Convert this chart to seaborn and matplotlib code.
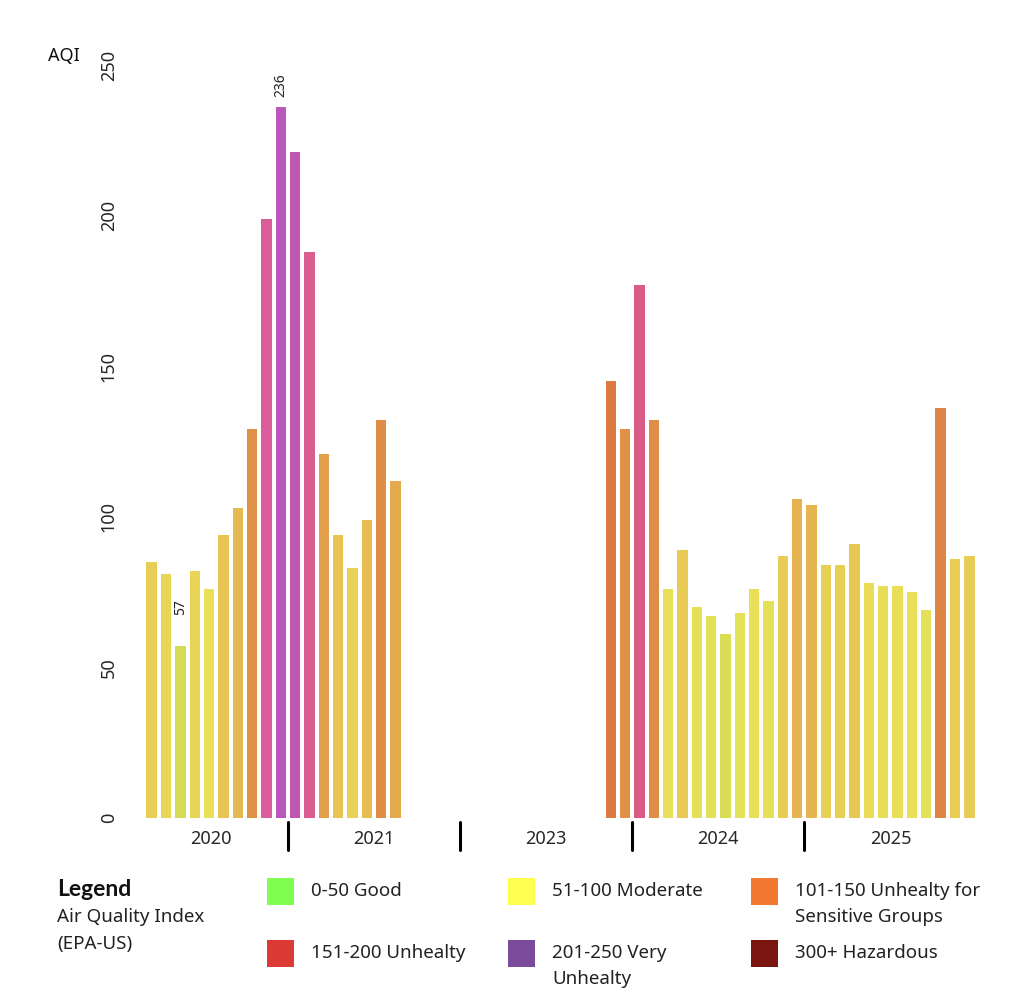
import numpy as np
import pandas as pd
import matplotlib
matplotlib.use("Agg")
import matplotlib.pyplot as plt
import seaborn as sns
from matplotlib.colors import LinearSegmentedColormap, to_hex
from matplotlib.patches import Rectangle
from matplotlib.lines import Line2D
import matplotlib.transforms as mtransforms

# ---------------- data ----------------
months = [
    "2020-03", "2020-04", "2020-05", "2020-06", "2020-07", "2020-08", "2020-09", "2020-10", "2020-11", "2020-12",
    "2021-01", "2021-02", "2021-03", "2021-04", "2021-05", "2021-06", "2021-07", "2021-08",
    "2023-11", "2023-12",
    "2024-01", "2024-02", "2024-03", "2024-04", "2024-05", "2024-06", "2024-07", "2024-08", "2024-09", "2024-10", "2024-11", "2024-12",
    "2025-01", "2025-02", "2025-03", "2025-04", "2025-05", "2025-06", "2025-07", "2025-08", "2025-09", "2025-10", "2025-11", "2025-12",
]
aqi = [
    85, 81, 57, 82, 76, 94, 103, 129, 199, 236,
    221, 188, 121, 94, 83, 99, 132, 112,
    145, 129,
    177, 132, 76, 89, 70, 67, 61, 68, 76, 72, 87, 106,
    104, 84, 84, 91, 78, 77, 77, 75, 69, 136, 86, 87,
]
years = ["2020", "2021", "2023", "2024", "2025"]
annotated_months = ["2020-05", "2020-12"]

y_ticks = [0, 50, 100, 150, 200, 250]

legend_labels = [
    "0-50 Good", "51-100 Moderate", "101-150 Unhealty for\nSensitive Groups",
    "151-200 Unhealty", "201-250 Very\nUnhealty", "300+ Hazardous",
]
legend_colors = ["#80FF50", "#FFFF50", "#F07830", "#DC3A35", "#7B4B9B", "#7A1510"]

# ---------------- style ----------------
sns.set_style("white")
plt.rcParams["font.family"] = ["Noto Sans", "DejaVu Sans"]

# gradient used for the bar fill (AQI -> colour)
grad_stops = [(50, "#C8DA50"), (57, "#D4DC55"), (67, "#E2E258"), (76, "#EADF58"),
              (84, "#E8CF55"), (94, "#E8C455"), (105, "#E6B450"), (121, "#E29E4C"),
              (132, "#DF8C47"), (145, "#DD7A42"), (162, "#DA6268"), (177, "#D95C88"),
              (200, "#DC5C9A"), (215, "#C259B0"), (236, "#B957BB"), (250, "#B456BE")]
lo, hi = grad_stops[0][0], grad_stops[-1][0]
cmap = LinearSegmentedColormap.from_list(
    "aqi", [((v - lo) / (hi - lo), c) for v, c in grad_stops])

# ---------------- frame ----------------
df = pd.DataFrame({"month": months, "aqi": aqi})
df["year"] = df["month"].str[:4]
df["m"] = df["month"].str[5:].astype(int)
df["pos"] = df["year"].map({y: i for i, y in enumerate(years)}) * 12 + df["m"] - 0.5
palette = {mo: to_hex(cmap((v - lo) / (hi - lo))) for mo, v in zip(df["month"], df["aqi"])}

W, H = 1024, 1008
fig = plt.figure(figsize=(W / 100, H / 100), dpi=100)
ax = fig.add_axes([133 / W, 1 - 818 / H, (988 - 133) / W, (818 - 65) / H])

sns.barplot(data=df, x="pos", y="aqi", hue="month", palette=palette,
            native_scale=True, width=0.72, saturation=1, errorbar=None,
            legend=False, ax=ax, linewidth=0)

x0, x1 = 1.2, 60.8
ax.set_xlim(x0, x1)
ax.set_ylim(0, 250)
sns.despine(ax=ax, left=True, bottom=True)
ax.grid(False)

ax.set_yticks(y_ticks)
ax.set_yticklabels([str(t) for t in y_ticks], rotation=90, va="center", fontsize=13)
ax.tick_params(axis="y", length=0, pad=11)

centers = []
for i, y in enumerate(years):
    a, b = max(i * 12, x0), min((i + 1) * 12, x1)
    centers.append((a + b) / 2)
ax.set_xticks(centers)
ax.set_xticklabels(years, fontsize=13)
ax.tick_params(axis="x", length=0, pad=9)
ax.set_xlabel("")
ax.set_ylabel("")

trans = mtransforms.blended_transform_factory(ax.transData, ax.transAxes)
for i in range(1, len(years)):
    ax.add_line(Line2D([i * 12, i * 12], [-0.005, -0.0425], transform=trans,
                       color="black", lw=2.2, clip_on=False))

# value labels
for mo in annotated_months:
    row = df[df["month"] == mo].iloc[0]
    off = 10.5 if row["aqi"] < 100 else 3.5
    ax.text(row["pos"], row["aqi"] + off, str(row["aqi"]), rotation=90,
            ha="center", va="bottom", fontsize=10, color="#222222")

fig.text(48 / W, 1 - 56 / H, "AQI", fontsize=13, ha="left", va="center", color="#111111")

# ---------------- legend ----------------
fig.text(57 / W, 1 - 889 / H, "Legend", fontsize=16.5, fontweight="bold",
         family=["Lato", "DejaVu Sans"], ha="left", va="center", color="#111111")
fig.text(57 / W, 1 - 917 / H, "Air Quality Index", fontsize=13.5, ha="left", va="center", color="#222222")
fig.text(57 / W, 1 - 944 / H, "(EPA-US)", fontsize=13.5, ha="left", va="center", color="#222222")

col_x = [267, 508, 751]
row_y = [878, 940]
for k, (lab, col) in enumerate(zip(legend_labels, legend_colors)):
    r, c = divmod(k, 3)
    sx, sy = col_x[c], row_y[r]
    fig.add_artist(Rectangle((sx / W, 1 - (sy + 27) / H), 27 / W, 27 / H,
                             transform=fig.transFigure, facecolor=col, edgecolor="none"))
    for j, line in enumerate(lab.split("\n")):
        fig.text((sx + 44) / W, 1 - (sy + 13.5 + 26 * j) / H, line, fontsize=13.5,
                 ha="left", va="center", color="#222222")

fig.savefig("out.png", dpi=100, facecolor="white")
